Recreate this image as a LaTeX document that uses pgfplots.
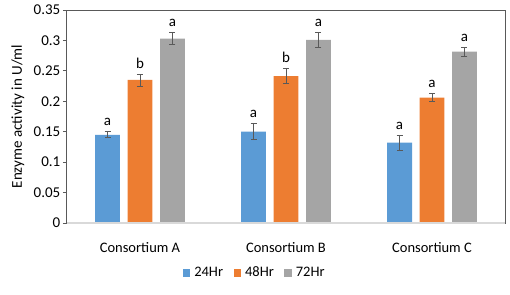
\documentclass[border=0pt]{standalone}
\usepackage{pgfplots}
\pgfplotsset{compat=1.18}
\usepackage{pgfplotstable}
\usepackage{fontspec}
\setmainfont{Carlito}
\definecolor{c24}{HTML}{5B9BD5}
\definecolor{c48}{HTML}{ED7D31}
\definecolor{c72}{HTML}{A5A5A5}
\definecolor{axdark}{HTML}{595959}
\definecolor{axlight}{HTML}{D9D9D9}

\pgfplotstableread{
x y err lab
0 0.145 0.005 a
1 0.150 0.013 a
2 0.132 0.0125 a
}\tA
\pgfplotstableread{
x y err lab
0 0.235 0.010 b
1 0.2415 0.012 b
2 0.206 0.0066 a
}\tB
\pgfplotstableread{
x y err lab
0 0.303 0.010 a
1 0.301 0.012 a
2 0.2815 0.007 a
}\tC

\begin{document}
\fontsize{14bp}{16bp}\selectfont
\begin{tikzpicture}
\path[use as bounding box] (-67bp,-72bp) rectangle (443bp,223bp);
\begin{axis}[
  at={(0,0)}, anchor=south west,
  scale only axis, width=438bp, height=213bp,
  xmin=-0.5, xmax=2.5, ymin=0, ymax=0.35,
  xtick={0,1,2},
  xticklabels={Consortium A, Consortium B, Consortium C},
  xtick style={draw=none},
  xticklabel style={anchor=center, yshift=-20.5bp, font=\fontsize{14.5bp}{16bp}\selectfont},
  ytick={0,0.05,0.1,0.15,0.2,0.25,0.3,0.35},
  yticklabels={0,0.05,0.1,0.15,0.2,0.25,0.3,0.35},
  ytick pos=left,
  tick align=outside,
  major tick length=4bp,
  ytick style={axdark, line width=0.8bp},
  yticklabel style={font=\fontsize{15bp}{16bp}\selectfont, inner sep=2.5bp},
  axis line style={axdark, line width=1bp},
  ylabel={Enzyme activity in U/ml},
  ylabel style={at={(axis description cs:-0.112,0.5)}, anchor=center, font=\fontsize{15bp}{16bp}\selectfont},
  legend style={at={(axis description cs:0.428,-0.235)}, anchor=center, draw=none, fill=none,
    legend columns=3, font=\fontsize{14.5bp}{16bp}\selectfont,
    /tikz/every even column/.append style={column sep=9bp},
    nodes={inner sep=1.5bp}},
  legend image code/.code={\fill[#1] (0bp,-3.8bp) rectangle (7.6bp,3.8bp); \path (10bp,0bp);},
  after end axis/.code={\draw[axlight, line width=1.2bp] (rel axis cs:0,0) -- (rel axis cs:1,0);},
  errplot/.style={draw=none, mark=none, forget plot,
    error bars/.cd, y dir=both, y explicit,
    error bar style={draw=axdark, line width=0.8bp},
    error mark options={rotate=90, mark size=3bp, draw=axdark, line width=0.8bp}},
  labplot/.style={draw=none, mark=none, forget plot, nodes near coords, point meta=explicit symbolic,
    nodes near coords style={anchor=south, inner sep=2bp, yshift=3.5bp, text=black, font=\fontsize{15bp}{16bp}\selectfont}},
]
\addplot[ybar, bar width=0.17, bar shift=-0.222, fill=c24, draw=none] table[x=x, y=y]{\tA};
\addlegendentry{24Hr}
\addplot[ybar, bar width=0.17, bar shift=0, fill=c48, draw=none] table[x=x, y=y]{\tB};
\addlegendentry{48Hr}
\addplot[ybar, bar width=0.17, bar shift=0.222, fill=c72, draw=none] table[x=x, y=y]{\tC};
\addlegendentry{72Hr}

\addplot[errplot] table[x expr=\thisrow{x}-0.222, y=y, y error=err]{\tA};
\addplot[errplot] table[x=x, y=y, y error=err]{\tB};
\addplot[errplot] table[x expr=\thisrow{x}+0.222, y=y, y error=err]{\tC};

\addplot[labplot] table[x expr=\thisrow{x}-0.222, y expr=\thisrow{y}+\thisrow{err}, meta=lab]{\tA};
\addplot[labplot] table[x expr=\thisrow{x}, y expr=\thisrow{y}+\thisrow{err}, meta=lab]{\tB};
\addplot[labplot] table[x expr=\thisrow{x}+0.222, y expr=\thisrow{y}+\thisrow{err}, meta=lab]{\tC};
\end{axis}
\end{tikzpicture}
\end{document}
